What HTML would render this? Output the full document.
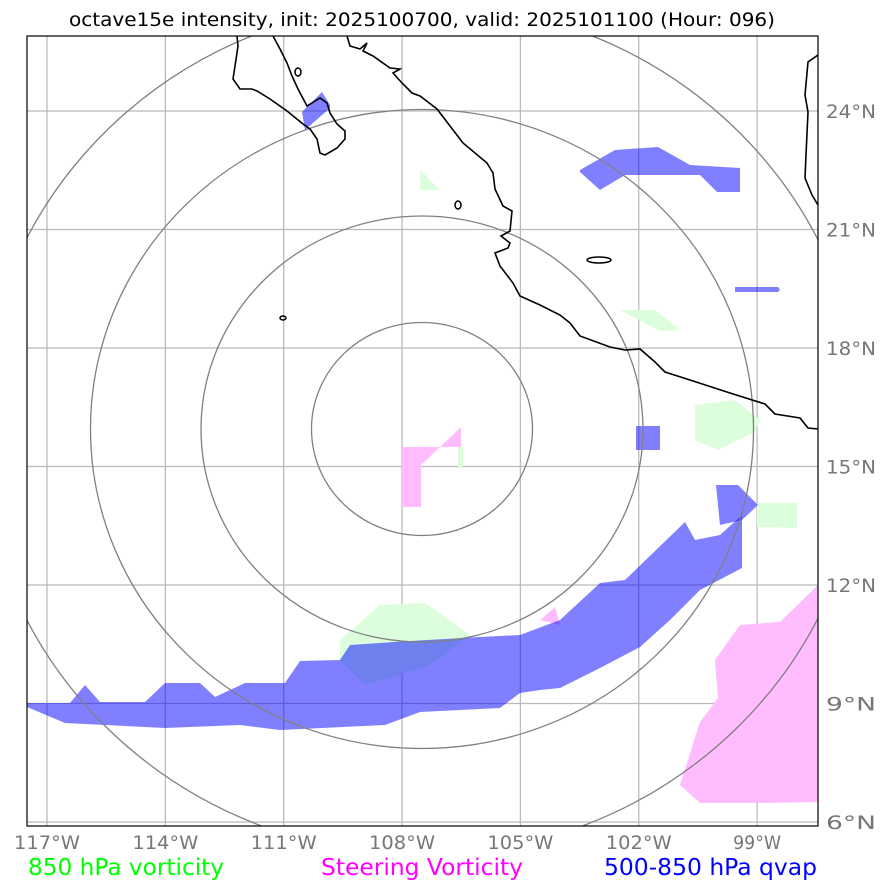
<!DOCTYPE html>
<html><head><meta charset="utf-8"><style>
body{margin:0;background:#fff;width:888px;height:891px;overflow:hidden;font-family:"Liberation Sans","DejaVu Sans",sans-serif}
</style></head><body>
<svg id="map" width="888" height="891" xmlns="http://www.w3.org/2000/svg" font-family="DejaVu Sans, Liberation Sans, sans-serif">
<text x="69" y="26" font-size="19" textLength="706" lengthAdjust="spacingAndGlyphs">octave15e intensity, init: 2025100700, valid: 2025101100 (Hour: 096)</text>
<defs><clipPath id="clip"><rect x="27" y="36" width="791" height="790"/></clipPath></defs>
<g id="plot" clip-path="url(#clip)"></g>
<rect x="27" y="36" width="791" height="790" fill="none" stroke="#000" stroke-width="1.2"/>
<g id="labels"></g>
<text x="28" y="875" font-size="23.5" fill="#00ff00" textLength="196" lengthAdjust="spacingAndGlyphs">850 hPa vorticity</text>
<text x="321" y="875" font-size="23.5" fill="#ff00ff" textLength="202" lengthAdjust="spacingAndGlyphs">Steering Vorticity</text>
<text x="604" y="875" font-size="23.5" fill="#0000ff" textLength="213" lengthAdjust="spacingAndGlyphs">500-850 hPa qvap</text>
</svg>
<script>
const lonTicks=[117,114,111,108,105,102,99];
const latTicks=[24,21,18,15,12,9,6];
const ringScale=[1,2,3,4];
const NS='http://www.w3.org/2000/svg';
function xLon(l){return 47+(117-l)*39.45;}
function yLat(l){return 822-(l-6)*39.5;}
const plot=document.getElementById('plot'),labels=document.getElementById('labels');
function mk(tag,attrs,parent){const e=document.createElementNS(NS,tag);for(const k in attrs)e.setAttribute(k,attrs[k]);parent.appendChild(e);return e;}
const green=[[[340,640],[380,605],[425,603],[470,635],[430,665],[365,685],[340,660]],[[695,405],[735,400],[760,420],[755,432],[718,450],[695,440]],[[757,503],[797,503],[797,528],[757,527]],[[620,310],[655,310],[680,330],[660,331]],[[420,170],[440,190],[420,190]],[[458,447],[463,447],[463,468],[458,468]]];
const blue=[[[27,703],[70,703],[85,685],[100,702],[145,702],[165,683],[200,683],[215,697],[245,683],[285,683],[300,661],[340,660],[350,645],[410,641],[480,637],[520,635],[560,620],[600,583],[625,580],[685,522],[695,540],[720,535],[742,515],[742,568],[700,590],[670,620],[640,647],[600,668],[560,688],[540,690],[520,693],[500,708],[420,712],[385,725],[280,730],[240,725],[165,728],[65,723],[27,707]],[[714,485],[738,485],[758,505],[742,520],[720,525],[716,485]],[[580,170],[615,150],[658,147],[690,165],[740,168],[740,192],[717,192],[700,175],[625,175],[600,190],[580,172]],[[636,426],[660,426],[660,450],[636,450]],[[302,112],[322,92],[330,105],[330,108],[305,130]],[[735,287],[778,287],[780,290],[778,292],[735,292]]];
const pink=[[[402,447],[440,447],[461,427],[461,447],[440,447],[421,465],[421,507],[402,507]],[[680,785],[700,722],[718,698],[715,660],[740,625],[780,622],[818,585],[818,802],[760,803],[700,803]],[[540,620],[555,607],[560,625]]];
const coastBaja=[[237,36],[238,46],[235,66],[233,79],[240,89],[252,89],[257,91],[270,99],[287,111],[303,124],[310,129],[317,139],[320,153],[325,155],[337,148],[345,139],[345,131],[337,124],[330,113],[327,103],[320,98],[307,106],[298,89],[292,76],[287,63],[280,49],[273,36]];
const coastMain=[[347,36],[350,46],[360,49],[367,43],[363,51],[373,56],[390,68],[400,69],[393,73],[402,83],[412,93],[420,96],[437,109],[450,126],[463,143],[487,163],[493,173],[495,189],[503,206],[512,211],[510,231],[501,236],[510,243],[508,248],[495,253],[500,266],[513,283],[520,296],[540,305],[560,315],[570,323],[580,336],[610,347],[625,350],[640,349],[655,362],[665,372],[690,380],[730,393],[765,404],[775,414],[800,418],[808,428],[818,429]];
const coastEast=[[818,55],[808,62],[805,95],[808,112],[806,155],[805,178],[812,195],[818,205]];
for(const la of latTicks){const l=mk('line',{x1:27,x2:818,y1:yLat(la),y2:yLat(la),stroke:'#bbb','stroke-width':1.3},plot);
const t=mk('text',{x:826,y:yLat(la)+7,'font-size':19,fill:'#777',textLength:50,lengthAdjust:'spacingAndGlyphs'},labels);t.textContent=la+'°N';}
for(const lo of lonTicks){const s=lo+'°W';const w=s.length===5?66:48;const l=mk('line',{x1:xLon(lo),x2:xLon(lo),y1:36,y2:826,stroke:'#bbb','stroke-width':1.3},plot);
const t=mk('text',{x:xLon(lo)-w/2,y:849,'font-size':19,fill:'#777',textLength:w,lengthAdjust:'spacingAndGlyphs'},labels);t.textContent=s;}
function polys(list,fill,name){for(const p of list){const e=mk('polygon',{points:p.map(q=>q.join(',')).join(' '),fill:fill},plot);}}
polys(green,'#ddfedd','vorticity-850-area');
polys(pink,'#ffbdff','steering-vorticity-area');
polys(blue,'rgba(0,0,255,0.5)','qvap-area');
for(const s of ringScale){const e=mk('ellipse',{cx:422,cy:429,rx:110.5*s,ry:106.5*s,fill:'none',stroke:'#808080','stroke-width':1.3},plot);}
for(const c of [coastBaja,coastMain,coastEast]){const e=mk('polyline',{points:c.map(q=>q.join(',')).join(' '),fill:'none',stroke:'#000','stroke-width':1.6},plot);}
for(const isl of [[458,205,3,4],[283,318,3,2],[599,260,12,3],[298,72,3,4]]){const e=mk('ellipse',{cx:isl[0],cy:isl[1],rx:isl[2],ry:isl[3],fill:'none',stroke:'#000','stroke-width':1.5},plot);}
</script>
</body></html>
